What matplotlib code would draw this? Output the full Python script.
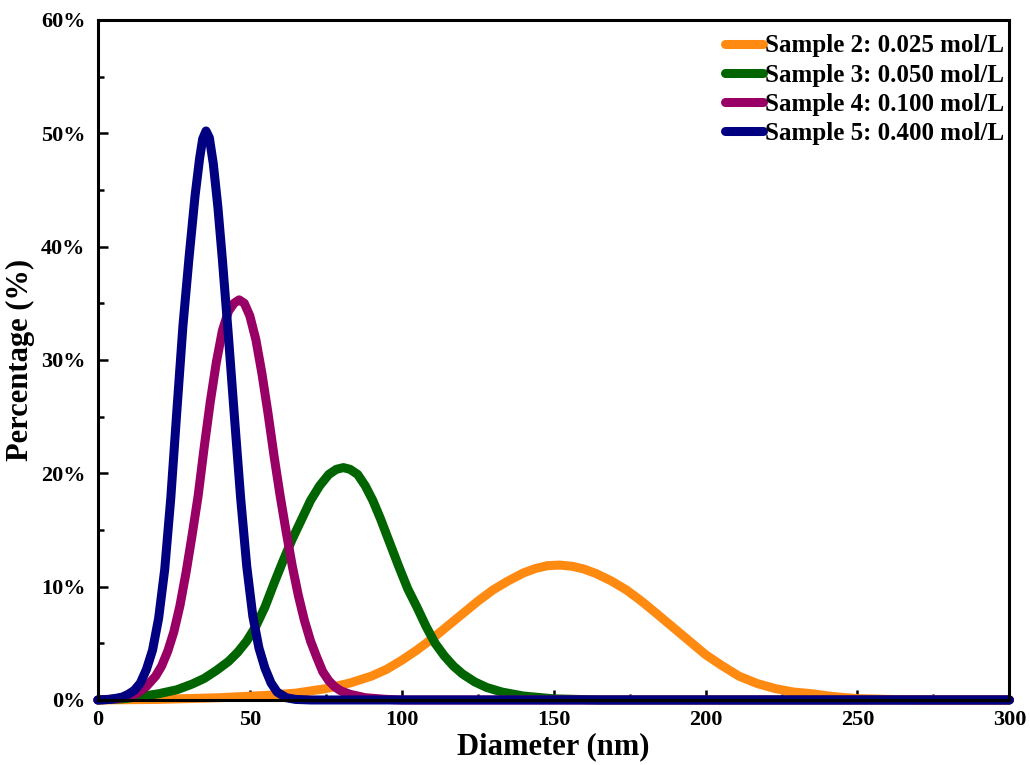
#!/usr/bin/env python3
"""Particle size distributions for samples 2-5 (values read off the reference chart)."""

import matplotlib
matplotlib.use("Agg")
import matplotlib.pyplot as plt
import matplotlib.ticker as mticker

# ──────────────────────────────────────────────────────────────────────────
# Data (diameter in nm, percentage in %)
# ──────────────────────────────────────────────────────────────────────────
s2_d = [0, 20, 40, 55, 65, 75, 83, 90, 95, 100, 105, 110, 115, 120, 125, 130, 135,
        140, 144, 148, 152, 156, 160, 164, 169, 174, 179, 184, 188, 192, 196, 200,
        205, 211, 217, 223, 229, 235, 242, 250, 260, 275, 300]
s2_p = [0, 0.05, 0.2, 0.4, 0.6, 1.0, 1.5, 2.1, 2.7, 3.5, 4.4, 5.4, 6.5, 7.6, 8.7, 9.7,
        10.5, 11.2, 11.6, 11.85, 11.9, 11.8, 11.55, 11.15, 10.5, 9.7, 8.7, 7.6, 6.7,
        5.8, 4.9, 4.0, 3.1, 2.1, 1.45, 1.0, 0.7, 0.55, 0.3, 0.12, 0.05, 0, 0]

s3_d = [0, 8, 14, 20, 26, 31, 35, 39, 43, 46, 49, 52, 55, 58, 61, 64, 67, 70, 73,
        76, 78.5, 80.8, 83, 85.5, 88, 90.5, 93, 96, 99, 102, 105, 108, 111, 114,
        117, 120, 124, 128, 133, 140, 150, 165, 300]
s3_p = [0, 0.1, 0.3, 0.55, 0.9, 1.4, 1.9, 2.6, 3.4, 4.2, 5.2, 6.5, 8.2, 10.3, 12.3,
        14.2, 15.9, 17.6, 18.9, 19.9, 20.35, 20.5, 20.35, 19.9, 18.9, 17.6, 16.0,
        13.9, 11.8, 9.8, 8.2, 6.5, 5.0, 3.9, 3.0, 2.3, 1.6, 1.1, 0.7, 0.35, 0.1, 0, 0]

s4_d = [0, 6, 10, 13, 16, 19, 21, 23, 25, 27, 29, 31, 33, 35, 37, 39, 41, 43, 44.8,
        46.5, 48.2, 50, 52, 54, 56, 58, 60, 62, 64, 66, 68, 70, 72, 74, 76, 78, 80,
        83, 88, 95, 100, 300]
s4_p = [0, 0.1, 0.3, 0.6, 1.2, 2.1, 3.0, 4.3, 6.0, 8.3, 11.2, 14.5, 18.0, 22.3, 26.3,
        29.8, 32.6, 34.3, 35.0, 35.3, 35.0, 33.9, 31.8, 28.8, 25.3, 21.5, 18.0, 14.8,
        11.8, 9.2, 7.0, 5.2, 3.8, 2.5, 1.7, 1.15, 0.8, 0.5, 0.2, 0.05, 0, 0]

s5_d = [0, 4, 8, 10, 12, 14, 16, 18, 20, 22, 24, 26, 28, 30, 32, 33.5, 34.5, 35.6,
        36.7, 38, 39.5, 41, 43, 45, 47, 49, 51, 53, 55, 57, 59, 62, 65, 70, 300]
s5_p = [0, 0.05, 0.25, 0.5, 0.85, 1.5, 2.7, 4.4, 7.2, 11.5, 17.8, 25.5, 33.0, 39.0,
        44.5, 47.8, 49.5, 50.2, 49.6, 47.3, 43.5, 38.8, 32.0, 24.8, 17.8, 11.8, 7.4,
        4.6, 2.8, 1.5, 0.7, 0.2, 0.05, 0, 0]

labels = ["Sample 2: 0.025 mol/L", "Sample 3: 0.050 mol/L",
          "Sample 4: 0.100 mol/L", "Sample 5: 0.400 mol/L"]
colors = ["#FF8A12", "#006400", "#990066", "#000080"]

x_ticks = [0, 50, 100, 150, 200, 250, 300]
y_ticks = [0, 10, 20, 30, 40, 50, 60]

# ──────────────────────────────────────────────────────────────────────────
# Plotting
# ──────────────────────────────────────────────────────────────────────────
plt.rcParams["font.family"] = ["Liberation Serif", "DejaVu Serif"]
plt.rcParams["font.weight"] = "bold"

fig = plt.figure(figsize=(10.3, 7.65), dpi=100)
ax = fig.add_axes([0.095, 0.085, 0.885, 0.889])

series = [(s2_d, s2_p), (s3_d, s3_p), (s4_d, s4_p), (s5_d, s5_p)]
for (d, p), lab, col in zip(series, labels, colors):
    ax.plot(d, p, color=col, linewidth=6.5, label=lab,
            solid_joinstyle="round", solid_capstyle="round", clip_on=False)

ax.set_xlim(0, 300)
ax.set_ylim(0, 60)
ax.set_xticks(x_ticks)
ax.set_yticks(y_ticks)
ax.xaxis.set_minor_locator(mticker.MultipleLocator(25))
ax.yaxis.set_minor_locator(mticker.MultipleLocator(5))
ax.yaxis.set_major_formatter("{x:.0f}%")

ax.tick_params(which="both", direction="in", top=False, right=False,
               labelsize=16, width=1.8)
ax.tick_params(which="major", length=7)
ax.tick_params(which="minor", length=4)
ax.tick_params(axis="x", pad=7)
ax.tick_params(axis="y", pad=9)
for lab in ax.get_xticklabels() + ax.get_yticklabels():
    lab.set_fontweight("bold")

for sp in ax.spines.values():
    sp.set_linewidth(2.2)

ax.set_xlabel("Diameter (nm)", fontsize=22, fontweight="bold", labelpad=2)
ax.set_ylabel("Percentage (%)", fontsize=22, fontweight="bold", labelpad=4)

ax.legend(loc="upper right", bbox_to_anchor=(1.0, 0.986), frameon=False,
          handlelength=1.5, handletextpad=0.1, labelspacing=0.25,
          borderpad=0.2, borderaxespad=0.0, prop={"weight": "bold", "size": 18})

fig.savefig("out.png", dpi=100)
